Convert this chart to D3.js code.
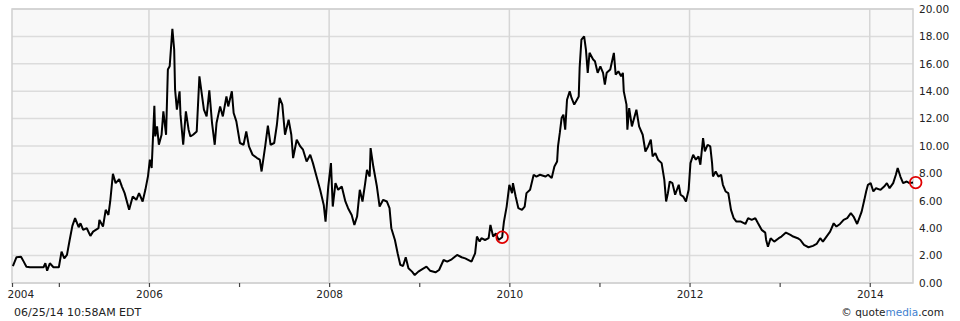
<!DOCTYPE html>
<html>
<head>
<meta charset="utf-8">
<script src="https://cdn.jsdelivr.net/npm/d3@7"></script>
<style>
  body { margin: 0; background: #fff; }
  text { font-family: "DejaVu Sans", Verdana, sans-serif; }
</style>
</head>
<body>
<div id="chart"></div>
<script>
// decimal years, and the closing price at each
var years = [
  2004.49, 2004.53, 2004.58, 2004.61, 2004.64, 2004.68, 2004.83, 2004.85, 2004.87, 2004.90,
  2004.94, 2005.00, 2005.03, 2005.06, 2005.09, 2005.12, 2005.15, 2005.18, 2005.22, 2005.24,
  2005.27, 2005.31, 2005.35, 2005.38, 2005.44, 2005.45, 2005.49, 2005.52, 2005.55, 2005.57,
  2005.60, 2005.63, 2005.67, 2005.70, 2005.73, 2005.78, 2005.82, 2005.86, 2005.89, 2005.93,
  2005.96, 2005.99, 2006.01, 2006.03, 2006.06, 2006.07, 2006.09, 2006.11, 2006.14, 2006.16,
  2006.19, 2006.21, 2006.23, 2006.26, 2006.28, 2006.29, 2006.31, 2006.34, 2006.35, 2006.38,
  2006.41, 2006.44, 2006.46, 2006.49, 2006.53, 2006.56, 2006.59, 2006.61, 2006.64, 2006.67,
  2006.70, 2006.73, 2006.75, 2006.79, 2006.82, 2006.86, 2006.88, 2006.92, 2006.94, 2006.97,
  2007.01, 2007.05, 2007.08, 2007.11, 2007.15, 2007.20, 2007.23, 2007.25, 2007.29, 2007.32,
  2007.35, 2007.39, 2007.42, 2007.45, 2007.48, 2007.51, 2007.55, 2007.58, 2007.60, 2007.64,
  2007.68, 2007.71, 2007.75, 2007.79, 2007.82, 2007.86, 2007.90, 2007.94, 2007.96, 2007.99,
  2008.02, 2008.04, 2008.07, 2008.10, 2008.14, 2008.18, 2008.21, 2008.25, 2008.28, 2008.31,
  2008.34, 2008.37, 2008.40, 2008.42, 2008.45, 2008.46, 2008.49, 2008.53, 2008.56, 2008.60,
  2008.64, 2008.67, 2008.69, 2008.73, 2008.76, 2008.79, 2008.82, 2008.85, 2008.88, 2008.92,
  2008.95, 2008.99, 2009.03, 2009.08, 2009.12, 2009.18, 2009.22, 2009.27, 2009.31, 2009.36,
  2009.42, 2009.47, 2009.51, 2009.58, 2009.62, 2009.64, 2009.67, 2009.69, 2009.73, 2009.77,
  2009.79, 2009.82, 2009.85, 2009.88, 2009.92, 2009.94, 2009.97, 2010.00, 2010.03, 2010.04,
  2010.07, 2010.10, 2010.14, 2010.17, 2010.19, 2010.23, 2010.27, 2010.30, 2010.34, 2010.40,
  2010.43, 2010.47, 2010.50, 2010.53, 2010.54, 2010.56, 2010.58, 2010.60, 2010.62, 2010.64,
  2010.67, 2010.69, 2010.72, 2010.75, 2010.77, 2010.78, 2010.80, 2010.83, 2010.85, 2010.87,
  2010.89, 2010.93, 2010.95, 2010.98, 2011.01, 2011.04, 2011.06, 2011.08, 2011.12, 2011.16,
  2011.18, 2011.21, 2011.24, 2011.26, 2011.27, 2011.30, 2011.31, 2011.33, 2011.36, 2011.38,
  2011.41, 2011.44, 2011.48, 2011.51, 2011.54, 2011.57, 2011.59, 2011.62, 2011.65, 2011.69,
  2011.72, 2011.74, 2011.76, 2011.78, 2011.81, 2011.84, 2011.88, 2011.90, 2011.93, 2011.96,
  2011.99, 2012.01, 2012.04, 2012.07, 2012.10, 2012.12, 2012.15, 2012.17, 2012.20, 2012.23,
  2012.25, 2012.26, 2012.29, 2012.32, 2012.35, 2012.37, 2012.40, 2012.43, 2012.46, 2012.49,
  2012.52, 2012.57, 2012.62, 2012.65, 2012.69, 2012.73, 2012.76, 2012.80, 2012.84, 2012.85,
  2012.87, 2012.90, 2012.94, 2012.99, 2013.02, 2013.07, 2013.12, 2013.15, 2013.20, 2013.23,
  2013.27, 2013.32, 2013.37, 2013.41, 2013.45, 2013.48, 2013.52, 2013.56, 2013.60, 2013.63,
  2013.67, 2013.71, 2013.75, 2013.79, 2013.82, 2013.86, 2013.89, 2013.91, 2013.94, 2013.96,
  2013.98, 2014.01, 2014.04, 2014.07, 2014.12, 2014.16, 2014.19, 2014.22, 2014.26, 2014.29,
  2014.31, 2014.34, 2014.37, 2014.41, 2014.44, 2014.48
];
var prices = [
  1.24, 1.88, 1.92, 1.56, 1.19, 1.15, 1.15, 1.44, 0.90, 1.44,
  1.15, 1.15, 2.29, 1.80, 2.05, 3.14, 4.17, 4.73, 4.07, 4.36,
  3.88, 4.00, 3.44, 3.75, 4.00, 4.60, 4.12, 5.34, 4.97, 5.95,
  7.97, 7.29, 7.58, 7.04, 6.56, 5.34, 6.31, 6.07, 6.56, 5.95,
  6.80, 7.82, 9.00, 8.39, 12.94, 10.70, 11.43, 10.09, 10.82, 12.53,
  10.82, 15.58, 15.82, 18.55, 17.04, 14.11, 12.65, 13.99, 12.29, 10.09,
  12.53, 11.19, 10.70, 10.82, 11.06, 15.09, 13.62, 12.65, 12.16, 14.06,
  11.68, 10.09, 11.68, 12.89, 12.16, 13.62, 12.89, 13.99, 12.41, 11.80,
  10.22, 10.09, 11.06, 9.97, 9.36, 9.12, 9.00, 8.14, 9.97, 11.48,
  10.09, 10.22, 11.55, 13.51, 13.02, 10.82, 11.92, 10.82, 9.12, 10.46,
  9.97, 9.73, 8.87, 9.36, 8.75, 7.77, 6.80, 5.70, 4.48, 7.04,
  8.75, 5.58, 7.29, 6.80, 7.04, 5.95, 5.46, 4.97, 4.24, 4.85,
  6.80, 5.95, 7.29, 8.26, 7.77, 9.85, 8.50, 7.04, 5.58, 6.07,
  5.95, 5.46, 4.00, 3.14, 2.17, 1.32, 1.24, 1.88, 1.07, 0.83,
  0.58, 0.83, 1.00, 1.19, 0.90, 0.78, 0.95, 1.68, 1.56, 1.73,
  2.05, 1.88, 1.80, 1.56, 2.17, 3.39, 3.02, 3.27, 3.14, 3.27,
  4.24, 3.39, 3.63, 3.14, 3.34, 4.48, 5.58, 7.17, 6.56, 7.29,
  6.31, 5.46, 5.34, 5.58, 6.56, 6.80, 7.90, 7.77, 7.90, 7.77,
  7.90, 7.66, 8.50, 8.87, 9.97, 10.95, 12.04, 12.29, 11.19, 13.38,
  13.99, 13.51, 13.02, 13.38, 13.62, 15.70, 17.77, 18.01, 17.04, 15.34,
  16.80, 16.31, 16.18, 15.34, 15.82, 15.34, 14.48, 15.34, 15.58, 16.80,
  15.21, 15.45, 15.09, 15.34, 13.99, 13.02, 11.19, 12.77, 11.43, 11.92,
  12.65, 11.43, 10.82, 9.60, 9.97, 10.46, 9.24, 9.48, 9.00, 8.75,
  7.53, 5.95, 6.56, 7.41, 7.29, 6.44, 7.17, 6.44, 6.31, 5.95,
  6.80, 8.75, 9.36, 9.00, 9.24, 8.63, 10.58, 9.60, 10.09, 9.97,
  8.75, 7.77, 8.14, 7.77, 7.90, 7.17, 6.68, 6.56, 5.34, 4.73,
  4.48, 4.48, 4.31, 4.73, 4.61, 4.73, 4.36, 3.88, 3.68, 3.14,
  2.65, 3.27, 3.02, 3.27, 3.39, 3.68, 3.51, 3.39, 3.27, 3.14,
  2.78, 2.61, 2.71, 2.85, 3.27, 3.02, 3.39, 3.75, 4.36, 4.12,
  4.31, 4.61, 4.73, 5.10, 4.85, 4.31, 4.85, 5.21, 6.07, 6.68,
  7.17, 7.29, 6.68, 6.92, 6.80, 7.04, 7.29, 6.92, 7.29, 7.90,
  8.39, 7.77, 7.29, 7.41, 7.29, 7.33
];
var xRange = [2004.48, 2014.48];
var tickYears = [2004.48, 2005, 2006, 2007, 2008, 2009, 2010, 2011, 2012, 2013, 2014];
var gridYears = [2006, 2008, 2010, 2012, 2014];
var yTicks = [0, 2, 4, 6, 8, 10, 12, 14, 16, 18, 20];
var markerYears = [2009.92, 2014.51];
var markerPrices = [3.34, 7.33];

var w = 960, h = 321;
var plotL = 12, plotR = 913, plotT = 9, plotB = 283;

var svg = d3.select("#chart").append("svg")
  .attr("width", w).attr("height", h);

var x = d3.scaleLinear().domain(xRange).range([plotL, plotR]);
var y = d3.scaleLinear().domain([0, 20]).range([plotB, plotT]);

svg.append("rect")
  .attr("x", plotL).attr("y", plotT)
  .attr("width", plotR - plotL).attr("height", plotB - plotT)
  .attr("fill", "#f8f8f8");

svg.append("g").selectAll("line").data(yTicks).join("line")
  .attr("x1", plotL).attr("x2", plotR)
  .attr("y1", d => y(d)).attr("y2", d => y(d))
  .attr("stroke", "#dcdcdc").attr("stroke-width", 1.5);

svg.append("g").selectAll("line").data(gridYears).join("line")
  .attr("x1", d => x(d)).attr("x2", d => x(d))
  .attr("y1", plotT).attr("y2", plotB)
  .attr("stroke", "#d6d6d6").attr("stroke-width", 1.5);

svg.append("rect")
  .attr("x", plotL).attr("y", plotT)
  .attr("width", plotR - plotL).attr("height", plotB - plotT)
  .attr("fill", "none").attr("stroke", "#d0d0d0").attr("stroke-width", 1.5);

var line = d3.line()
  .x((d, i) => x(years[i]))
  .y(d => y(d));

svg.append("path")
  .datum(prices)
  .attr("d", line)
  .attr("fill", "none")
  .attr("stroke", "#000")
  .attr("stroke-width", 2)
  .attr("stroke-linejoin", "bevel");

svg.append("g").selectAll("circle").data(markerYears).join("circle")
  .attr("cx", d => x(d))
  .attr("cy", (d, i) => y(markerPrices[i]))
  .attr("r", 5.8)
  .attr("fill", "none")
  .attr("stroke", "#e00000")
  .attr("stroke-width", 1.8);

// bottom axis
var xAxis = d3.axisBottom(x)
  .tickValues(tickYears)
  .tickSize(4)
  .tickPadding(4)
  .tickFormat(d => {
    var yr = Math.floor(d);
    return (yr % 2 === 0) ? String(yr) : "";
  });

var gx = svg.append("g")
  .attr("transform", "translate(0," + plotB + ")")
  .call(xAxis);
gx.select(".domain").remove();
gx.selectAll(".tick line").attr("stroke", "#444").attr("stroke-width", 1.2);
gx.selectAll(".tick text")
  .attr("fill", "#222")
  .style("font-size", "10.5px")
  .style("font-family", "DejaVu Sans");
gx.selectAll(".tick text").filter(d => d === tickYears[0])
  .attr("text-anchor", "start").attr("x", -5);

// right axis
var yAxis = d3.axisRight(y)
  .tickValues(yTicks)
  .tickSize(0)
  .tickPadding(6)
  .tickFormat(d3.format(".2f"));

var gy = svg.append("g")
  .attr("transform", "translate(" + plotR + ",0)")
  .call(yAxis);
gy.select(".domain").remove();
gy.selectAll(".tick text")
  .attr("fill", "#222")
  .style("font-size", "10.5px")
  .style("font-family", "DejaVu Sans");

svg.append("text")
  .attr("x", 14).attr("y", 316)
  .attr("fill", "#222")
  .style("font-size", "11px")
  .text("06/25/14 10:58AM EDT");

var credit = svg.append("text")
  .attr("x", 944).attr("y", 316)
  .attr("text-anchor", "end")
  .attr("fill", "#222")
  .style("font-size", "10.5px");
credit.append("tspan").text("© quote");
credit.append("tspan").attr("fill", "#3f7fcf").text("media");
credit.append("tspan").text(".com");
</script>
</body>
</html>
